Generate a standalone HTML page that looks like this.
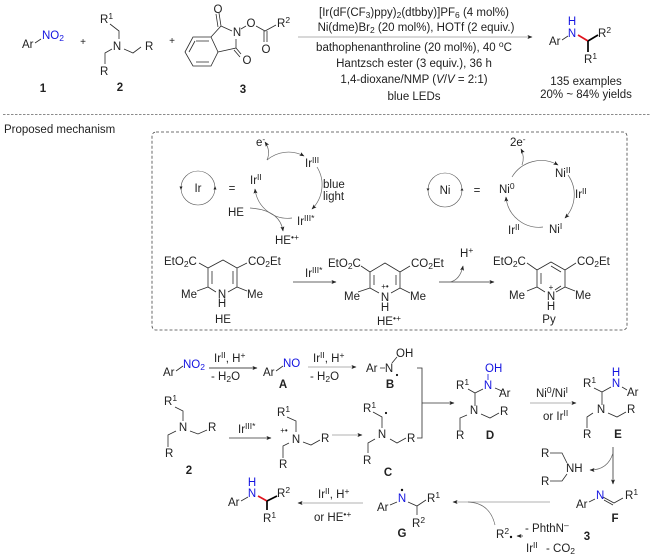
<!DOCTYPE html>
<html><head><meta charset="utf-8"><style>
html,body{margin:0;padding:0;background:#fff}
svg{display:block}
text{font-family:"Liberation Sans",sans-serif;font-size:11.5px;fill:#222}
.b{fill:#1414e0}
.bd{font-weight:bold;font-size:11.5px}
.c{text-anchor:middle}
.u{font-size:8.5px;baseline-shift:4px}
.d{font-size:8.5px;baseline-shift:-2px}
.l{stroke:#2a2a2a;stroke-width:.8;fill:none}
.a{stroke:#333;stroke-width:.8;fill:none;marker-end:url(#m)}
.g{stroke:#999;stroke-width:.8;fill:none;marker-end:url(#m)}
.y{stroke:#666;stroke-width:.7;fill:none;marker-end:url(#m)}
.k{stroke:#000;stroke-width:1.7;fill:none}
.r{stroke:#e0141e;stroke-width:1.7;fill:none}
</style></head><body>
<svg width="650" height="559" viewBox="0 0 650 559" xmlns="http://www.w3.org/2000/svg">
<defs><marker id="m" markerUnits="userSpaceOnUse" markerWidth="5" markerHeight="4" refX="4.5" refY="2" orient="auto"><path d="M0 0L5 2L0 4L1 2Z" fill="#222"/></marker></defs>

<!-- top reaction -->
<text x="22" y="48">Ar</text><path class="l" d="M35 43L41 39"/><text x="42" y="39" class="b">NO<tspan class="d">2</tspan></text>
<text x="43" y="92" class="bd c">1</text><text x="83" y="45" class="c" style="font-size:10px">+</text>
<text x="100" y="23">R<tspan class="u">1</tspan></text>
<path class="l" d="M110 24L119 31V39M124 49L133 53L141 47M112 49L105 53V64"/>
<text x="117" y="50" class="c">N</text><text x="145" y="50">R</text><text x="100" y="75">R</text>
<text x="120" y="91" class="bd c">2</text><text x="172" y="44" class="c" style="font-size:10px">+</text>
<path class="l" d="M185 52L193 37H211L218 52L211 66H193ZM189 52L195 41M196 62H209M209 41H196M211 37L221 26L232 31M218 52L236 48V39M221 26L219 13M218 27L216 14M236 48L241 54M234 50L240 57"/>
<text x="218" y="13" class="c">O</text><text x="247" y="64" class="c">O</text><text x="237" y="36" class="c">N</text>
<text x="251" y="27" class="c">O</text><text x="266" y="53" class="c">O</text>
<path class="l" d="M241 29L246 26M256 26L265 31L276 25M264 31V42M267 31V42"/>
<text x="277" y="27">R<tspan class="u">2</tspan></text>
<text x="243" y="93" class="bd c">3</text>

<path class="a" style="stroke:#999" d="M298 37H532"/>
<text x="414" y="16" class="c">[Ir(dF(CF<tspan class="d">3</tspan>)ppy)<tspan class="d">2</tspan>(dtbby)]PF<tspan class="d">6</tspan> (4 mol%)</text>
<text x="416" y="31" class="c">Ni(dme)Br<tspan class="d">2</tspan> (20 mol%), HOTf (2 equiv.)</text>
<text x="414" y="51" class="c">bathophenanthroline (20 mol%), 40 <tspan class="u">o</tspan>C</text>
<text x="414" y="67" class="c">Hantzsch ester (3 equiv.), 36 h</text>
<text x="414" y="83" class="c">1,4-dioxane/NMP (<tspan font-style="italic">V</tspan>/<tspan font-style="italic">V</tspan> = 2:1)</text>
<text x="414" y="100" class="c">blue LEDs</text>

<text x="549" y="45">Ar</text><path class="l" d="M562 40L568 36"/>
<text x="572" y="25" class="b c">H</text><text x="572" y="37" class="b c">N</text>
<path class="r" d="M578 35L588 41"/><path class="k" d="M588 41L598 35M588 41V52"/>
<text x="598" y="37">R<tspan class="u">2</tspan></text><text x="584" y="63">R<tspan class="u">1</tspan></text>
<text x="586" y="85" class="c">135 examples</text><text x="586" y="98" class="c">20% ~ 84% yields</text>

<path d="M3 114.500H650" stroke="#666" stroke-width=".8" stroke-dasharray="2.500 1.500"/>
<text x="4" y="133">Proposed mechanism</text>

<rect x="152" y="132" width="475" height="198" rx="4" fill="none" stroke="#444" stroke-width=".8" stroke-dasharray="3 2"/>

<!-- Ir cycle -->
<circle cx="198" cy="188" r="17" fill="none" stroke="#555" stroke-width=".6"/>
<path d="M181 190l-1.500-3.500h3zM215 186l-1.500 3.500h3z" fill="#222"/>
<text x="198" y="192" class="c">Ir</text><text x="232" y="192" class="c">=</text>
<path class="y" d="M267 160A33 33 0 0 1 304 156"/>
<path class="y" d="M267 160Q271 151 265 142"/>
<path class="y" d="M317 167A34 34 0 0 1 312 209"/>
<path class="y" d="M292 218A33 33 0 0 1 255 189"/>
<path class="y" d="M250 208Q280 210 283 231"/>
<text x="256" y="146">e<tspan class="u">-</tspan></text>
<text x="250" y="184">Ir<tspan class="u">II</tspan></text><text x="305" y="167">Ir<tspan class="u">III</tspan></text>
<text x="323" y="188">blue</text><text x="323" y="200">light</text>
<text x="297" y="225">Ir<tspan class="u">III*</tspan></text><text x="228" y="216">HE</text>
<text x="275" y="244">HE<tspan class="u">&#8226;+</tspan></text>

<!-- Ni cycle -->
<circle cx="445" cy="190" r="17" fill="none" stroke="#555" stroke-width=".6"/>
<path d="M428 191l-1.500-2.500h3zM462 188l-1.500 2.500h3z" fill="#222"/>
<text x="445" y="194" class="c">Ni</text><text x="477" y="194" class="c">=</text>
<path class="y" d="M512 177A34 34 0 0 1 558 165"/>
<path class="y" d="M522 165Q525 157 521 149"/>
<path class="y" d="M568 175A34 34 0 0 1 565 218"/>
<path class="y" d="M543 227A33 33 0 0 1 506 197"/>
<text x="510" y="146">2e<tspan class="u">-</tspan></text>
<text x="499" y="193">Ni<tspan class="u">0</tspan></text><text x="555" y="177">Ni<tspan class="u">II</tspan></text>
<text x="575" y="198">Ir<tspan class="u">II</tspan></text><text x="549" y="233">Ni<tspan class="u">I</tspan></text>
<text x="508" y="234">Ir<tspan class="u">II</tspan></text>

<!-- HE -->
<path class="l" d="M199 263L208 268L223 260L237 268V287L228 292M216 292L208 287V268M212 271V284M233 271V284M247 263L237 268M208 287L197 291M237 287L247 291"/>
<text x="164" y="265">EtO<tspan class="d">2</tspan>C</text><text x="248" y="265">CO<tspan class="d">2</tspan>Et</text>
<text x="181" y="298">Me</text><text x="247" y="298">Me</text>
<text x="222" y="298" class="c">N</text><text x="222" y="307" class="c">H</text><text x="223" y="323" class="c">HE</text>
<path class="a" d="M293 282H336"/><text x="305" y="277">Ir<tspan class="u">III*</tspan></text>

<!-- HE radical -->
<path class="l" d="M361 266L370 272L385 263L400 272V288L391 293M379 293L370 288V272M374 275V285M396 275V285M410 266L400 272M370 288L358 292M400 288L410 293"/>
<text x="328" y="267">EtO<tspan class="d">2</tspan>C</text><text x="411" y="267">CO<tspan class="d">2</tspan>Et</text>
<text x="344" y="300">Me</text><text x="410" y="300">Me</text>
<text x="385" y="301" class="c">N</text><text x="385" y="311" class="c">H</text>
<text x="385" y="289" class="c" style="font-size:8px">+&#8226;</text>
<text x="377" y="325">HE<tspan class="u">&#8226;+</tspan></text>

<path class="a" d="M439 282H494"/><path class="y" d="M450 282Q460 280 463 266"/>
<text x="460" y="257">H<tspan class="u">+</tspan></text>

<!-- Py -->
<path class="l" d="M527 263L537 270L551 262L565 270V287L556 292M545 292L537 287V270M541 273V284M561 272L551 266M555 290L561 286M576 263L565 270M537 287L527 291M565 287L575 291"/>
<text x="493" y="265">EtO<tspan class="d">2</tspan>C</text><text x="577" y="265">CO<tspan class="d">2</tspan>Et</text>
<text x="509" y="299">Me</text><text x="575" y="299">Me</text>
<text x="551" y="300" class="c">N</text><text x="551" y="310" class="c">H</text>
<text x="551" y="290" class="c" style="font-size:8px">+</text><text x="549" y="323" class="c">Py</text>

<!-- lower row 1 -->
<text x="163" y="376">Ar</text><path class="l" d="M176 371L183 366"/><text x="183" y="368" class="b">NO<tspan class="d">2</tspan></text>
<path class="a" style="stroke:#111" d="M209 368H257"/>
<text x="214" y="362">Ir<tspan class="u">II</tspan>, H<tspan class="u">+</tspan></text>
<text x="211" y="380">- H<tspan class="d">2</tspan>O</text>
<text x="263" y="376">Ar</text><path class="l" d="M276 371L283 366"/><text x="283" y="367" class="b">NO</text>
<text x="283" y="388" class="bd c">A</text>
<path class="g" d="M308 367H356"/>
<text x="313" y="362">Ir<tspan class="u">II</tspan>, H<tspan class="u">+</tspan></text>
<text x="310" y="380">- H<tspan class="d">2</tspan>O</text>
<text x="366" y="372">Ar</text><path class="l" d="M380 368H385M392 363L397 357"/>
<text x="389" y="372" class="c">N</text><circle cx="397" cy="375" r="1.100" fill="#111"/>
<text x="396" y="357">OH</text><text x="390" y="388" class="bd c">B</text>

<!-- amine 2 -->
<text x="164" y="405">R<tspan class="u">1</tspan></text>
<path class="l" d="M175 407L183 411V421M190 431L198 434L207 430M176 431L168 435V447"/>
<text x="183" y="431" class="c">N</text><text x="208" y="431">R</text><text x="165" y="457">R</text>
<text x="189" y="474" class="bd c">2</text>
<path class="a" d="M229 438H271"/><text x="238" y="433">Ir<tspan class="u">III*</tspan></text>

<text x="277" y="416">R<tspan class="u">1</tspan></text>
<path class="l" d="M287 417L296 421V432M303 442L311 445L320 440M289 443L283 446V458"/>
<text x="296" y="443" class="c">N</text><text x="321" y="442">R</text><text x="279" y="468">R</text>
<text x="284" y="433" class="c" style="font-size:8px">+&#8226;</text>
<path class="g" d="M332 435H362"/>

<!-- C -->
<text x="363" y="412">R<tspan class="u">1</tspan></text><circle cx="386" cy="413" r="1.100" fill="#111"/>
<path class="l" d="M373 412L382 417V428M390 439L397 443L406 438M375 439L368 443V453"/>
<text x="382" y="438" class="c">N</text><text x="407" y="442">R</text><text x="363" y="464">R</text>
<text x="388" y="476" class="bd c">C</text>

<!-- bracket -->
<path class="l" d="M417 368H422V438H417"/>
<path class="a" d="M422 403H454"/>

<!-- D -->
<text x="456" y="389">R<tspan class="u">1</tspan></text>
<path class="l" d="M468 389L475 393L483 389M475 393V406M495 388L502 391M481 414L490 418L499 413M467 415L460 418V430"/>
<path class="l" style="stroke:#1414e0" d="M488 374V380"/>
<text x="485" y="372" class="b">OH</text><text x="488" y="389" class="b c">N</text>
<text x="499" y="397">Ar</text><text x="474" y="414" class="c">N</text><text x="500" y="415">R</text>
<text x="456" y="439">R</text><text x="490" y="439" class="bd c">D</text>

<path class="g" d="M530 403H576"/>
<text x="536" y="397">Ni<tspan class="u">0</tspan>/Ni<tspan class="u">I</tspan></text>
<text x="543" y="420">or Ir<tspan class="u">II</tspan></text>

<!-- E -->
<text x="583" y="387">R<tspan class="u">1</tspan></text>
<path class="l" d="M594 388L602 392L611 387M602 392V405M622 387L627 390M608 413L617 417L626 412M593 413L587 417V428"/>
<text x="616" y="376" class="b c">H</text><text x="616" y="387" class="b c">N</text>
<text x="627" y="396">Ar</text><text x="601" y="413" class="c">N</text><text x="627" y="413">R</text>
<text x="583" y="438">R</text><text x="618" y="438" class="bd c">E</text>

<!-- amine + F -->
<text x="541" y="457">R</text><text x="541" y="485">R</text>
<path class="l" d="M550 453H562L567 463M550 481H562L567 474"/>
<text x="566" y="472">NH</text>
<path class="a" d="M613 447V484"/><path class="y" d="M613 453Q608 470 590 470"/>
<text x="576" y="508">Ar</text><path class="l" d="M589 502L595 499M603 497L614 503L623 498M604 500L613 505"/>
<text x="596" y="499" class="b">N</text><text x="625" y="499">R<tspan class="u">1</tspan></text>
<text x="615" y="522" class="bd c">F</text>

<path class="g" d="M550 502H453"/><path class="y" style="marker-end:none" d="M495 525Q490 503 468 502"/>
<text x="496" y="538">R<tspan class="u">2</tspan></text><circle cx="511" cy="537" r="1.200" fill="#111"/>
<path class="a" d="M523 536H517"/>
<text x="525" y="532">- PhthN<tspan class="u">&#8211;</tspan></text>
<text x="526" y="552">Ir<tspan class="u">II</tspan></text><text x="546" y="552">- CO<tspan class="d">2</tspan></text>
<text x="587" y="540" class="bd c">3</text>

<!-- G -->
<text x="377" y="511">Ar</text><path class="l" d="M390 505L397 502M408 502L417 506L426 500M417 506V515"/>
<text x="402" y="502" class="b c">N</text><circle cx="402" cy="490" r="1.200" fill="#111"/>
<text x="427" y="502">R<tspan class="u">1</tspan></text><text x="412" y="527">R<tspan class="u">2</tspan></text>
<text x="402" y="537" class="bd c">G</text>

<path class="g" d="M363 503H298"/>
<text x="318" y="498">Ir<tspan class="u">II</tspan>, H<tspan class="u">+</tspan></text>
<text x="314" y="521">or HE<tspan class="u">&#8226;+</tspan></text>

<!-- final product -->
<text x="228" y="506">Ar</text><path class="l" d="M241 501L248 497"/>
<text x="252" y="486" class="b c">H</text><text x="252" y="497" class="b c">N</text>
<path class="r" d="M258 496L267 501"/><path class="k" d="M267 501L277 496M267 501V510"/>
<text x="277" y="497">R<tspan class="u">2</tspan></text><text x="263" y="522">R<tspan class="u">1</tspan></text>
</svg>
</body></html>
